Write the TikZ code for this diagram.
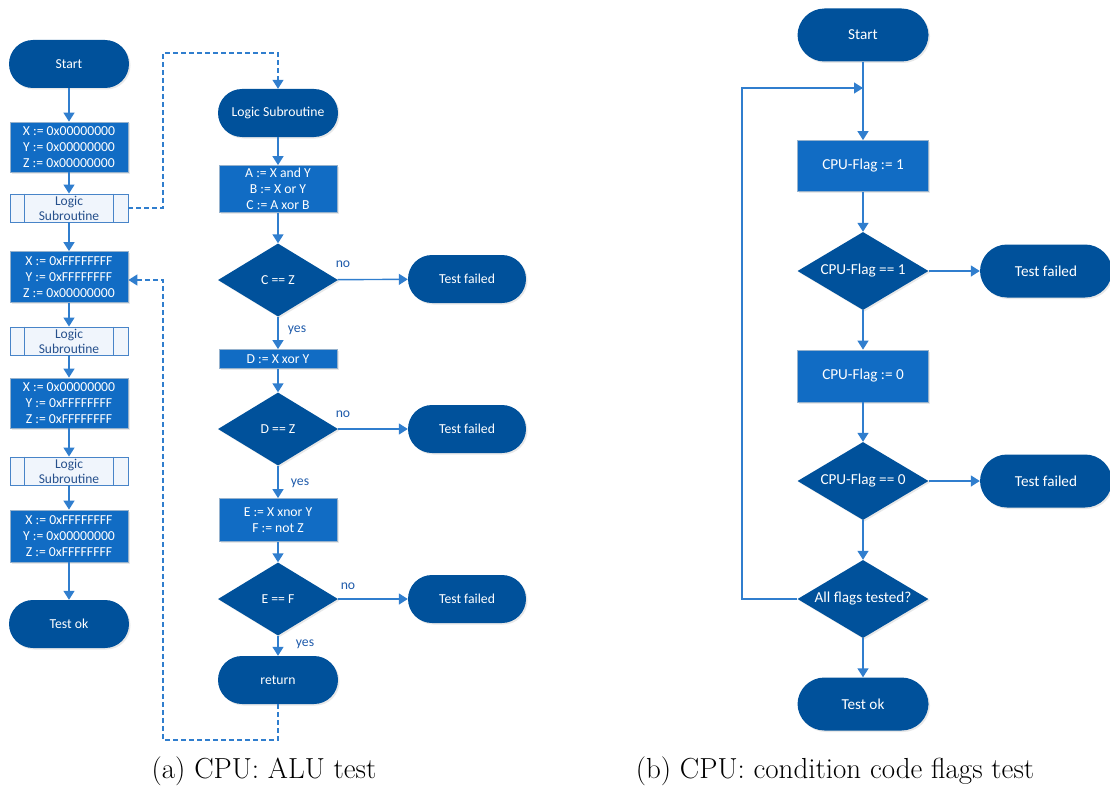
\documentclass[tikz,border=0pt]{standalone}
\usepackage{fontspec}
\newfontfamily\diafont{Carlito}
\usetikzlibrary{shapes.geometric,arrows.meta,shadows}
\definecolor{termblue}{RGB}{0,81,155}
\definecolor{procblue}{RGB}{17,108,196}
\definecolor{procedge}{RGB}{150,178,205}
\definecolor{lineblue}{RGB}{48,126,206}
\definecolor{subfill}{RGB}{240,245,252}
\definecolor{subedge}{RGB}{72,132,200}
\definecolor{subtext}{RGB}{38,80,140}
\definecolor{lbltext}{RGB}{30,90,170}
\begin{document}
\begin{tikzpicture}[x=1pt,y=-1pt,
  every node/.style={align=center},
  small/.style={font=\diafont\fontsize{13.7}{16}\selectfont},
  subfont/.style={font=\diafont\fontsize{13.5}{15}\selectfont},
  large/.style={font=\diafont\fontsize{15.2}{18}\selectfont},
  shade/.style={drop shadow={opacity=0.18,shadow xshift=1.5pt,shadow yshift=-1.5pt}},
  term/.style={shade,fill=termblue,text=white,rounded corners=24pt,
    minimum width=120pt,minimum height=48pt,inner sep=0pt},
  termL/.style={term,rounded corners=27pt,minimum width=131pt,minimum height=53pt},
  proc/.style={shade,fill=procblue,draw=procedge,line width=0.8pt,text=white,
    minimum width=118pt,inner sep=0pt},
  dec/.style={shape=diamond,aspect=1.64,shade,fill=termblue,text=white,inner sep=0pt,
    minimum width=120pt,minimum height=73pt},
  decL/.style={dec,aspect=1.68,minimum width=131pt,minimum height=78pt},
  subr/.style={fill=subfill,draw=subedge,line width=0.9pt,text=subtext,
    minimum width=118pt,minimum height=28pt,inner sep=0pt},
  lbl/.style={small,text=lbltext,inner sep=0pt},
  flow/.style={draw=lineblue,line width=1.4pt,-{Triangle[width=11pt,length=9pt]}},
  back/.style={flow,dash pattern=on 5pt off 3pt},
  caption/.style={font=\fontsize{29}{34}\selectfont,inner sep=0pt}
]
\useasboundingbox (0,0) rectangle (1110,789);

% ---------------- (a) main sequence ----------------
\node[term,small] (start) at (69,64) {Start};
\node[proc,small,minimum height=50pt] (p1) at (69,147)
  {X := 0x00000000\\Y := 0x00000000\\Z := 0x00000000};
\node[subr,subfont] (s1) at (69,208) {Logic\\Subroutine};
\node[proc,small,minimum height=51pt] (p2) at (69,277)
  {X := 0xFFFFFFFF\\Y := 0xFFFFFFFF\\Z := 0x00000000};
\node[subr,subfont] (s2) at (69,341) {Logic\\Subroutine};
\node[proc,small,minimum height=50pt] (p3) at (69,403)
  {X := 0x00000000\\Y := 0xFFFFFFFF\\Z := 0xFFFFFFFF};
\node[subr,subfont] (s3) at (69,471) {Logic\\Subroutine};
\node[proc,small,minimum height=52pt] (p4) at (69,536)
  {X := 0xFFFFFFFF\\Y := 0x00000000\\Z := 0xFFFFFFFF};
\node[term,small] (ok) at (69,624) {Test ok};

% inner bars of the subroutine boxes
\foreach \s in {s1,s2,s3}{
  \draw[subedge,line width=0.9pt] ([xshift=15pt]\s.north west) -- ([xshift=15pt]\s.south west);
  \draw[subedge,line width=0.9pt] ([xshift=-15pt]\s.north east) -- ([xshift=-15pt]\s.south east);
}

\draw[flow] (start) -- (p1);
\draw[flow] (p1) -- (s1);
\draw[flow] (s1) -- (p2);
\draw[flow] (p2) -- (s2);
\draw[flow] (s2) -- (p3);
\draw[flow] (p3) -- (s3);
\draw[flow] (s3) -- (p4);
\draw[flow] (p4) -- (ok);

% ---------------- (a) logic subroutine ----------------
\node[term,small] (ls) at (278,113) {Logic Subroutine};
\node[proc,small,minimum height=47pt] (pa) at (278,189)
  {A := X and Y\\B := X or Y\\C := A xor B};
\node[dec,small] (dc) at (278,280) {C == Z};
\node[term,small,minimum width=118pt] (f1) at (467,279) {Test failed};
\node[proc,small,minimum height=19pt] (pd) at (278,359) {D := X xor Y};
\node[dec,small] (dd) at (278,429) {D == Z};
\node[term,small,minimum width=118pt] (f2) at (467,429) {Test failed};
\node[proc,small,minimum height=43pt] (pe) at (278,520) {E := X xnor Y\\F := not Z};
\node[dec,small] (de) at (278,599) {E == F};
\node[term,small,minimum width=118pt] (f3) at (467,599) {Test failed};
\node[term,small] (ret) at (278,680) {return};

\draw[flow] (ls) -- (pa);
\draw[flow] (pa) -- (dc);
\draw[flow] (dc) -- (pd);
\draw[flow] (dc) -- (f1);
\draw[flow] (pd) -- (dd);
\draw[flow] (dd) -- (pe);
\draw[flow] (dd) -- (f2);
\draw[flow] (pe) -- (de);
\draw[flow] (de) -- (ret);
\draw[flow] (de) -- (f3);

\node[lbl] (no1) at (343,264) {no};
\node[lbl] (yes1) at (297,330) {yes};
\node[lbl] (no2) at (343,414) {no};
\node[lbl] (yes2) at (300,483) {yes};
\node[lbl] (no3) at (348,586) {no};
\node[lbl] (yes3) at (305,644) {yes};

% dashed calls into and out of the subroutine
\coordinate (c1) at (163,208);
\coordinate (c2) at (163,53);
\coordinate (c3) at (278,53);
\draw[back] (s1.east) -- (c1) -- (c2) -- (c3) -- (ls.north);
\coordinate (r1) at (278,740);
\coordinate (r2) at (163,740);
\coordinate (r3) at (163,280);
\draw[back] (ret.south) -- (r1) -- (r2) -- (r3) -- (p2.east |- r3);

% ---------------- (b) condition code flags ----------------
\node[termL,large] (bstart) at (863,35) {Start};
\node[proc,large,minimum width=131pt,minimum height=51pt] (b1) at (863,166) {CPU-Flag := 1};
\node[decL,large] (bd1) at (863,271) {CPU-Flag == 1};
\node[termL,large,minimum width=132pt] (bf1) at (1046,271) {Test failed};
\node[proc,large,minimum width=131pt,minimum height=52pt] (b0) at (863,376) {CPU-Flag := 0};
\node[decL,large] (bd0) at (863,481) {CPU-Flag == 0};
\node[termL,large,minimum width=132pt] (bf0) at (1046,481) {Test failed};
\node[decL,large] (ball) at (863,599) {All flags tested?};
\node[termL,large] (bok) at (863,704) {Test ok};

\draw[flow] (bstart) -- (b1);
\draw[flow] (b1) -- (bd1);
\draw[flow] (bd1) -- (bf1);
\draw[flow] (bd1) -- (b0);
\draw[flow] (b0) -- (bd0);
\draw[flow] (bd0) -- (bf0);
\draw[flow] (bd0) -- (ball);
\draw[flow] (ball) -- (bok);

\coordinate (l1) at (742,599);
\coordinate (l2) at (742,88);
\coordinate (l3) at (863,88);
\draw[flow] (ball.west) -- (l1) -- (l2) -- (l3);

% ---------------- captions ----------------
\node[caption] (capa) at (264,771) {(a) CPU: ALU test};
\node[caption] (capb) at (835,771) {(b) CPU: condition code flags test};
\end{tikzpicture}
\end{document}
